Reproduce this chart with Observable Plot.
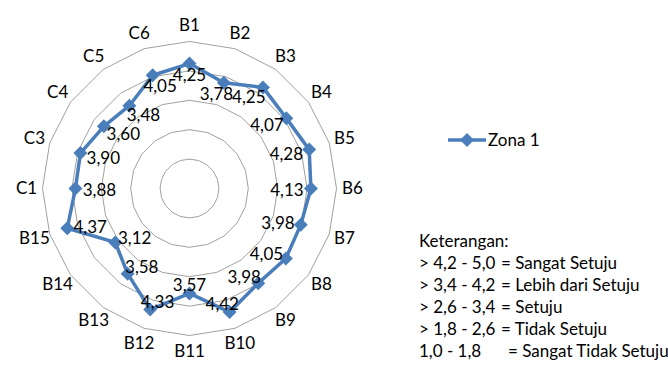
<!DOCTYPE html>
<html>
<head>
<meta charset="utf-8">
<script src="https://cdn.jsdelivr.net/npm/d3@7"></script>
<script src="https://cdn.jsdelivr.net/npm/@observablehq/plot@0.6"></script>
<style>
  html, body { margin: 0; padding: 0; background: #fff; overflow: hidden; }
  #wrap { position: relative; width: 668px; height: 365px; font-family: Lato, "Open Sans", sans-serif; color: #000; }
  #chart { position: absolute; left: 0; top: 0; }
  #legend { position: absolute; left: 448px; top: 130px; height: 20px; line-height: 20px; font-size: 17px; display: flex; align-items: center; white-space: nowrap; }
  #legend svg { display: block; margin-right: 2px; }
  #ket { position: absolute; left: 419px; top: 230px; font-size: 17px; line-height: 22px; white-space: nowrap; }
  #ket .row { display: grid; grid-template-columns: 82px auto; }
  #ket .row.last { grid-template-columns: 89px auto; }
</style>
</head>
<body>
<div id="wrap">
  <div id="chart"></div>
  <div id="legend"></div>
  <div id="ket"></div>
</div>
<script>
const categories = ["B1","B2","B3","B4","B5","B6","B7","B8","B9","B10","B11","B12","B13","B14","B15","C1","C3","C4","C5","C6"];
const values = [4.25,3.78,4.25,4.07,4.28,4.13,3.98,4.05,3.98,4.42,3.57,4.33,3.58,3.12,4.37,3.88,3.90,3.60,3.48,4.05];
const ringLevels = [1,2,3,4,5];
const seriesName = "Zona 1";
const ketTitle = "Keterangan:";
const ketRanges = ["> 4,2 - 5,0", "> 3,4 - 4,2", "> 2,6 - 3,4", "> 1,8 - 2,6", "1,0 - 1,8"];
const ketLabels = ["Sangat Setuju", "Lebih dari Setuju", "Setuju", "Tidak Setuju", "Sangat Tidak Setuju"];

const BLUE = "#4a7ebb";
const n = categories.length;
const ang = i => (i % n) * 2 * Math.PI / n;
const pxPerUnit = 147 / 5;

// data points (closed)
const pts = values.map((v, i) => ({cat: categories[i], v, a: ang(i)}));
const closed = [...pts, pts[0]];

// ring vertices
const rings = [];
for (const lv of ringLevels) {
  for (let i = 0; i <= n; i++) rings.push({level: lv, a: ang(i), r: lv});
}

const fmt = v => v.toFixed(2).replace(".", ",");

const chart = Plot.plot({
  width: 668,
  height: 365,
  margin: 0,
  x: {domain: [-5, 5], range: [42, 336], axis: null},
  y: {domain: [-5, 5], range: [335, 41], axis: null},
  style: {fontFamily: "Lato, 'Open Sans', sans-serif", background: "transparent"},
  marks: [
    Plot.line(rings, {
      x: d => d.r * Math.sin(d.a), y: d => d.r * Math.cos(d.a), z: "level",
      stroke: "#a0a0a0", strokeWidth: 1, curve: "linear"
    }),
    Plot.line(closed, {
      x: d => d.v * Math.sin(d.a), y: d => d.v * Math.cos(d.a),
      stroke: BLUE, strokeWidth: 3.5, strokeLinejoin: "round"
    }),
    Plot.dot(pts, {
      x: d => d.v * Math.sin(d.a), y: d => d.v * Math.cos(d.a),
      symbol: "diamond2", r: 6.3, fill: BLUE, stroke: "none"
    }),
    Plot.text(pts, {
      x: d => d.v * Math.sin(d.a) - 24 / pxPerUnit * Math.sin(d.a),
      y: d => d.v * Math.cos(d.a) - (10 * Math.cos(d.a) + 2) / pxPerUnit,
      text: d => fmt(d.v), fontSize: 17, fill: "#000"
    }),
    Plot.text(categories, {
      x: (d, i) => (163 / pxPerUnit) * Math.sin(ang(i)),
      y: (d, i) => (163 / pxPerUnit) * Math.cos(ang(i)),
      text: d => d, fontSize: 17, fill: "#000"
    })
  ]
});
document.getElementById("chart").appendChild(chart);

// legend
const lg = document.getElementById("legend");
lg.innerHTML = `<svg width="38" height="14" viewBox="0 0 38 14">
  <line x1="0" y1="7" x2="38" y2="7" stroke="${BLUE}" stroke-width="3.5"/>
  <path d="M19 0 L26 7 L19 14 L12 7 Z" fill="${BLUE}"/>
</svg><span>${seriesName}</span>`;

const ket = document.getElementById("ket");
let html = `<div>${ketTitle}</div>`;
ketRanges.forEach((r, i) => {
  const cls = r.startsWith(">") ? "row" : "row last";
  html += `<div class="${cls}"><span>${r}</span><span>= ${ketLabels[i]}</span></div>`;
});
ket.innerHTML = html;
</script>
</body>
</html>
